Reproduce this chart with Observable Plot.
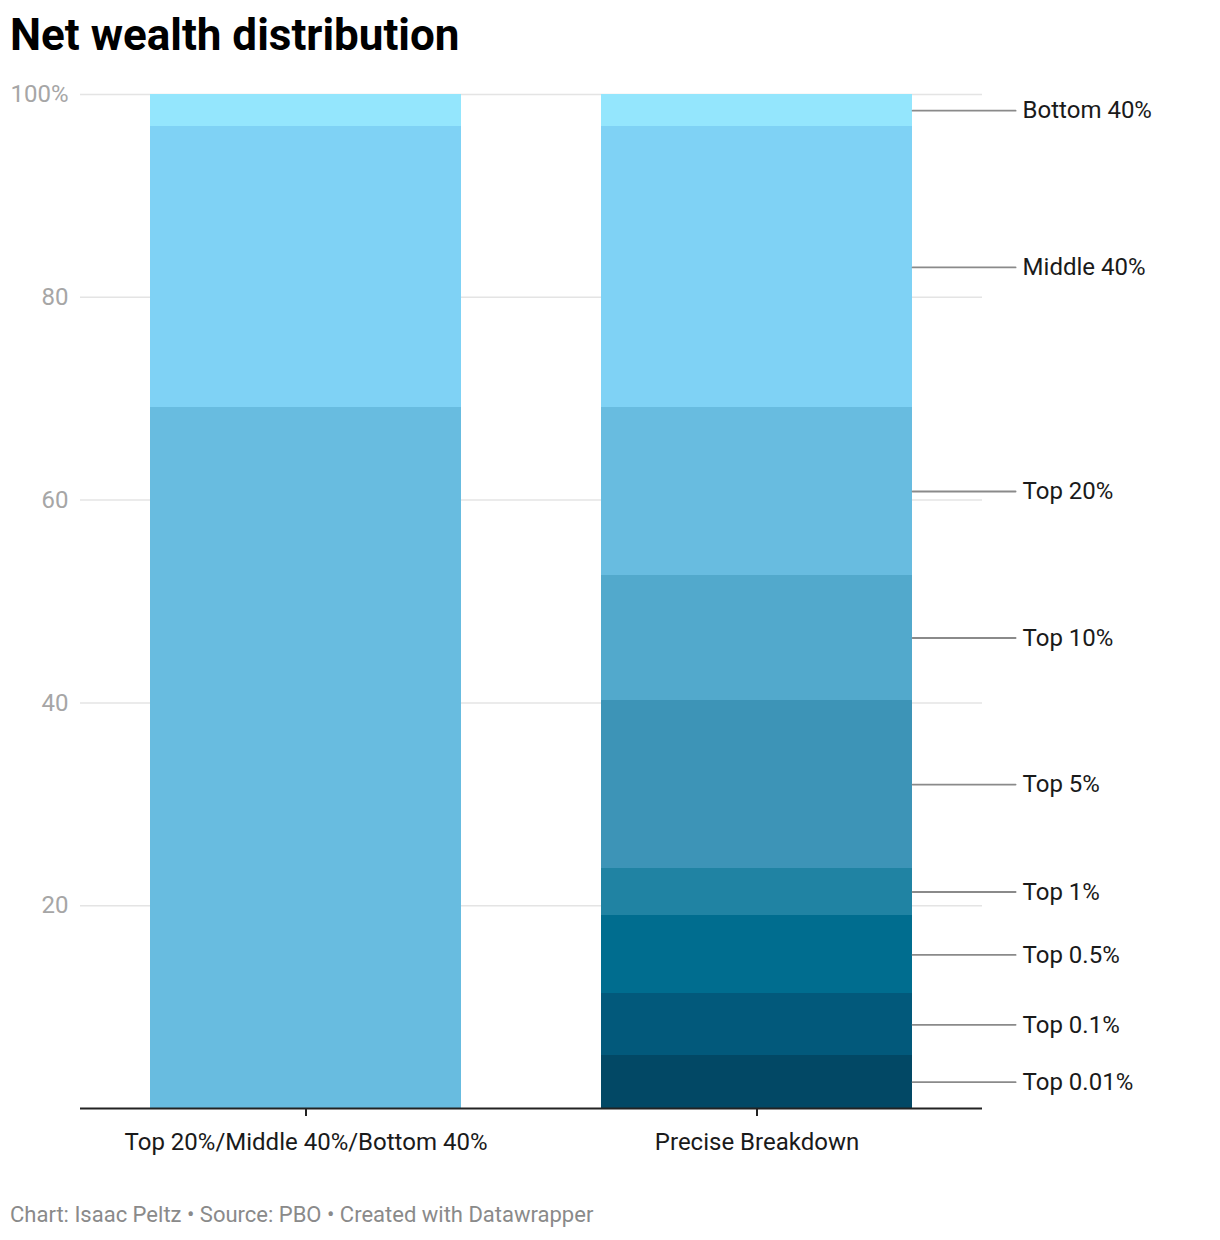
<!DOCTYPE html>
<html>
<head>
<meta charset="utf-8">
<script src="https://cdn.jsdelivr.net/npm/d3@7"></script>
<script src="https://cdn.jsdelivr.net/npm/@observablehq/plot@0.6"></script>
<style>
  html, body { margin: 0; padding: 0; background: #fff; }
  body { width: 1220px; height: 1240px; position: relative; font-family: Roboto, "Noto Sans", sans-serif; }
  #title { position: absolute; left: 10px; top: 13px; font-size: 44px; line-height: 44px; font-weight: 700; color: #000; white-space: nowrap; }
  #chart { position: absolute; left: 0; top: 64px; }
  #footer { position: absolute; left: 10px; top: 1204px; font-size: 22px; line-height: 22px; color: #8a8a8a; white-space: nowrap; }
</style>
</head>
<body>
<div id="title">Net wealth distribution</div>
<div id="chart"></div>
<div id="footer">Chart: Isaac Peltz • Source: PBO • Created with Datawrapper</div>
<script>
// ---- data ----
const groups = ["Top 20%/Middle 40%/Bottom 40%", "Precise Breakdown"];
const leftSegments = ["Top 20%", "Middle 40%", "Bottom 40%"];
const leftValues = [69.1, 27.7, 3.2];
const rightSegments = ["Top 0.01%", "Top 0.1%", "Top 0.5%", "Top 1%", "Top 5%", "Top 10%", "Top 20%", "Middle 40%", "Bottom 40%"];
const rightValues = [5.2, 6.1, 7.7, 4.7, 16.5, 12.4, 16.5, 27.7, 3.2];
const segmentColors = ["#024865", "#02597b", "#006d8f", "#2083a3", "#3d94b7", "#52a9cc", "#68bce0", "#7fd2f5", "#94e6fd"];
const yTicks = [20, 40, 60, 80, 100];

// ---- table ----
const leftData = leftSegments.map((s, i) => ({group: groups[0], segment: s, value: leftValues[i]}));
const rightData = rightSegments.map((s, i) => ({group: groups[1], segment: s, value: rightValues[i]}));
const allData = leftData.concat(rightData);

const W = 1220, mL = 80, mR = 238;
const padInner = 0.31, padOuter = 0.155;
const step = (W - mL - mR) / (groups.length - padInner + 2 * padOuter);
const bandwidth = step * (1 - padInner);

const lineShape = {
  draw(context, length) {
    context.moveTo(0, 0);
    context.lineTo(0, -length);
  }
};

const chart = Plot.plot({
  width: W,
  height: 1104,
  marginLeft: mL,
  marginRight: mR,
  marginTop: 30,
  marginBottom: 60,
  style: {fontFamily: "Roboto, sans-serif", background: "#fff", overflow: "visible"},
  x: {domain: groups, paddingInner: padInner, paddingOuter: padOuter, label: null},
  y: {domain: [0, 100], label: null},
  color: {domain: rightSegments, range: segmentColors},
  marks: [
    Plot.gridY(yTicks, {stroke: "#e4e4e4", strokeOpacity: 1, strokeWidth: 1.5}),
    Plot.axisY(yTicks, {
      tickSize: 0, tickPadding: 12, fontSize: 24, fill: "#a6a6a6",
      tickFormat: d => d === 100 ? "100%" : String(d)
    }),
    Plot.barY(allData, Plot.stackY({x: "group", y: "value", fill: "segment", order: null, shapeRendering: "crispEdges"})),
    Plot.vector(rightData, Plot.stackY({
      x: "group", y: "value", order: null,
      rotate: 90, length: 103, anchor: "start", shape: lineShape,
      dx: bandwidth / 2, stroke: "#8a8a8a", strokeWidth: 1.8
    })),
    Plot.text(rightData, Plot.stackY({
      x: "group", y: "value", order: null, text: "segment",
      dx: bandwidth / 2 + 110, textAnchor: "start", fontSize: 24, fill: "#1a1a1a"
    })),
    Plot.ruleY([0], {stroke: "#222", strokeWidth: 2}),
    Plot.axisX({tickSize: 8, tickPadding: 16, fontSize: 24, fill: "#1a1a1a", stroke: "#222", strokeWidth: 2, label: null})
  ]
});
document.getElementById("chart").appendChild(chart);
</script>
</body>
</html>
